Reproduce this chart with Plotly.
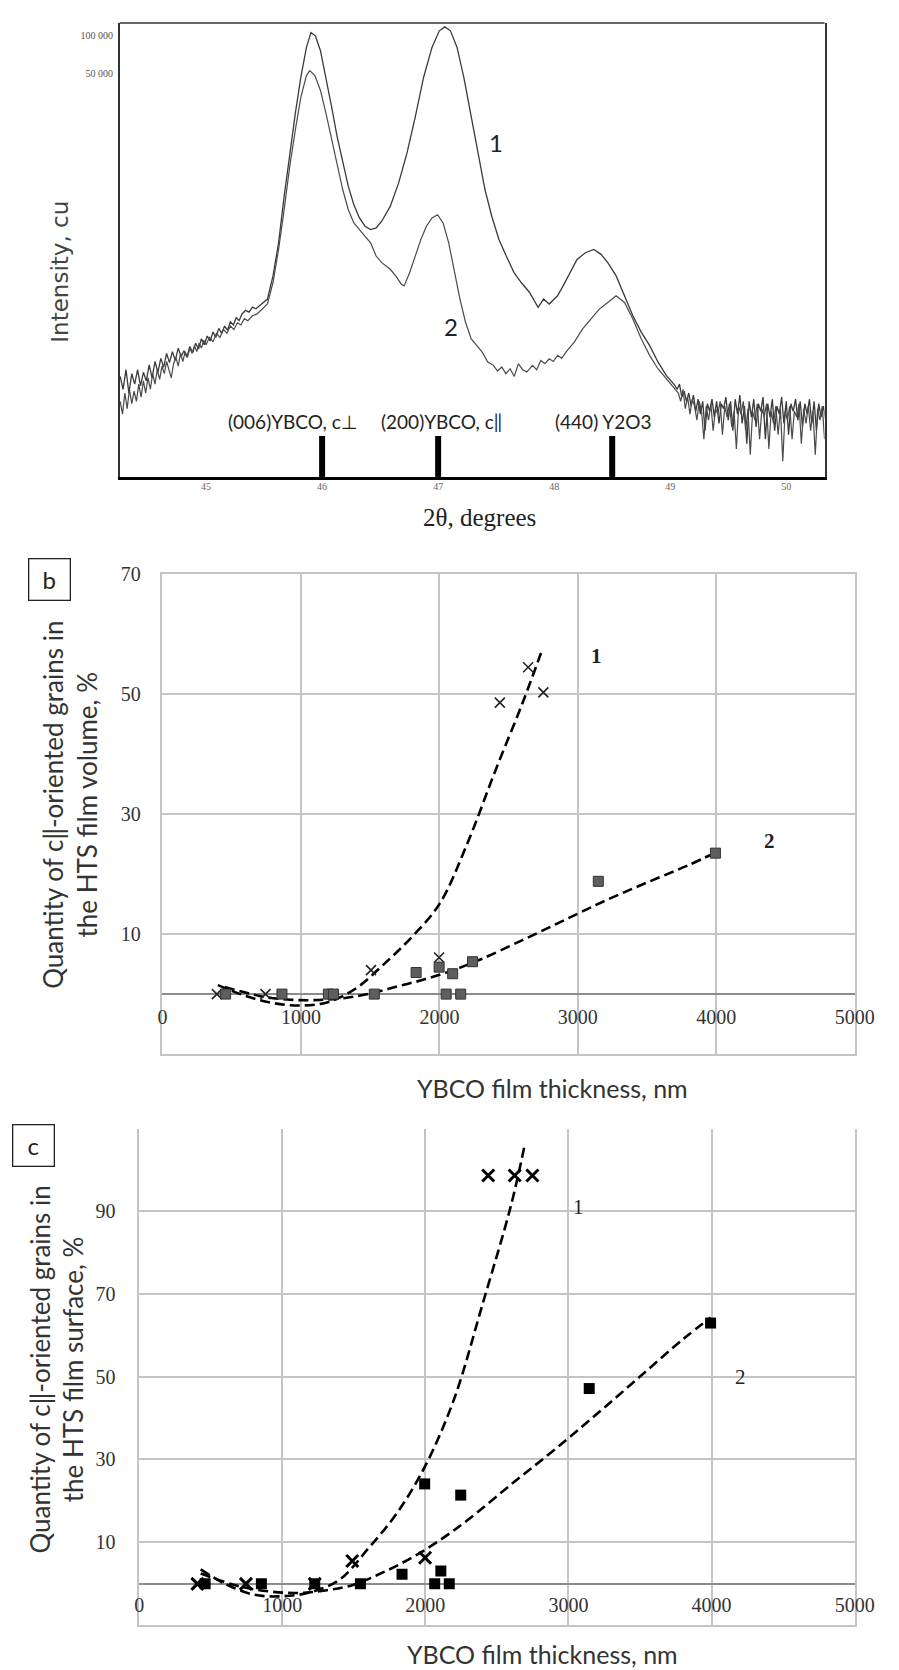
import plotly.graph_objects as go

# ---------------- Panel a: XRD patterns ----------------
tt_1 = [44.26,44.285,44.31,44.335,44.36,44.385,44.41,44.435,44.46,44.485,44.51,44.535,44.56,44.585,44.61,44.635,44.66,44.685,44.71,44.735,44.76,44.785,44.81,44.835,44.86,44.885,44.91,44.935,44.96,44.985,45.01,45.035,45.06,45.085,45.11,45.135,45.16,45.185,45.21,45.235,45.26,45.285,45.31,45.34,45.37,45.40,45.43,45.46,45.49,
        45.529,45.577,45.625,45.673,45.721,45.769,45.817,45.865,45.904,45.942,45.986,46.034,46.082,46.130,46.178,46.226,46.274,46.322,46.370,46.418,46.466,46.514,46.587,46.659,46.731,46.803,46.875,46.947,47.010,47.058,47.106,47.163,47.221,47.284,47.346,47.404,47.462,47.524,47.587,47.654,47.716,47.788,47.861,47.909,47.957,48.029,48.077,48.135,48.197,48.269,48.341,48.404,48.462,48.534,48.606,48.678,48.750,48.822,48.894,48.966,49.038,
        49.06,49.08,49.10,49.12,49.14,49.16,49.18,49.20,49.22,49.24,49.26,49.28,49.30,49.32,49.34,49.36,49.38,49.40,49.42,49.44,49.46,49.48,49.50,49.52,49.54,49.56,49.58,49.60,49.62,49.64,49.66,49.68,49.70,49.72,49.74,49.76,49.78,49.80,49.82,49.84,49.86,49.88,49.90,49.92,49.94,49.96,49.98,50.00,50.02,50.04,50.06,50.08,50.10,50.12,50.14,50.16,50.18,50.20,50.22,50.24,50.26,50.28,50.30,50.32,50.34]
int_1 = [190,150,215,140,200,165,215,160,205,175,235,185,250,205,265,225,290,245,300,255,320,275,305,270,330,295,350,315,380,340,400,365,430,390,460,420,480,445,520,490,560,530,600,640,620,680,660,700,740,
         788,1208,2221,5212,11500,23890,46700,80800,106300,100000,76000,46700,27000,15600,9580,6260,4475,3508,3012,2834,2921,3300,4340,6650,11500,22480,46700,80800,109600,117900,109600,80800,46700,22480,10820,5887,3616,2360,1741,1284,1069,890,677,788,720,837,1005,1284,1636,1850,1965,1795,1540,1207,837,581,429,336,248,194,162,
         150,165,130,145,120,140,110,135,100,125,95,120,70,115,100,125,90,120,80,115,105,130,85,120,70,125,95,135,80,110,55,120,90,125,75,115,100,130,60,115,90,125,70,110,95,130,80,120,65,115,100,125,85,120,75,115,95,125,80,120,70,115,90,110,85]

tt_2 = [44.26,44.28,44.30,44.32,44.34,44.36,44.38,44.40,44.42,44.44,44.46,44.48,44.50,44.52,44.54,44.56,44.58,44.60,44.62,44.64,44.66,44.68,44.70,44.72,44.74,44.76,44.78,44.80,44.82,44.84,44.86,44.88,44.90,44.92,44.94,44.96,44.98,45.00,45.03,45.06,45.09,45.12,45.15,45.18,45.21,45.24,45.27,45.30,45.33,45.36,45.40,45.44,45.48,
        45.529,45.577,45.625,45.673,45.721,45.769,45.817,45.865,45.894,45.938,45.986,46.034,46.082,46.130,46.178,46.226,46.274,46.322,46.370,46.418,46.466,46.514,46.587,46.635,46.683,46.707,46.755,46.803,46.851,46.899,46.947,46.995,47.043,47.091,47.139,47.188,47.236,47.284,47.332,47.380,47.428,47.476,47.512,47.548,47.584,47.620,47.656,47.692,47.728,47.764,47.813,47.849,47.885,47.921,47.957,47.993,48.029,48.065,48.101,48.173,48.245,48.317,48.389,48.462,48.534,48.606,48.678,48.750,48.822,48.894,48.966,49.038,
        49.07,49.09,49.11,49.13,49.15,49.17,49.19,49.21,49.23,49.25,49.27,49.29,49.31,49.33,49.35,49.37,49.39,49.41,49.43,49.45,49.47,49.49,49.51,49.53,49.55,49.57,49.59,49.61,49.63,49.65,49.67,49.69,49.71,49.73,49.75,49.77,49.79,49.81,49.83,49.85,49.87,49.89,49.91,49.93,49.95,49.97,49.99,50.01,50.03,50.05,50.07,50.09,50.11,50.13,50.15,50.17,50.19,50.21,50.23,50.25,50.27,50.29,50.31,50.33]
int_2 = [120,95,140,105,150,115,145,120,165,130,175,140,185,150,200,165,215,180,230,200,250,210,185,240,270,230,290,250,300,270,320,290,335,300,350,320,370,340,390,360,420,390,450,420,480,450,510,490,550,530,580,600,650,
         720,1069,1965,4082,9016,17620,32400,48140,52700,48140,36600,23890,14680,9016,5887,4082,3197,2834,2508,2221,1741,1540,1364,1207,1037,1005,1284,1741,2360,3012,3508,3724,3197,2221,1284,788,515,380,336,297,248,233,210,226,200,219,190,240,215,206,233,215,255,240,263,250,280,265,297,357,456,547,656,741,837,741,547,380,280,219,183,152,
         140,120,150,105,130,95,125,110,85,120,100,60,110,85,115,70,105,95,120,65,110,90,115,75,100,50,110,95,120,70,105,45,100,85,115,60,105,90,115,50,100,80,110,65,105,40,100,85,110,60,100,90,115,55,105,80,110,70,100,45,105,85,110,60]

ref_pos = [46.0, 47.0, 48.5]
ref_labels = ["(006)YBCO, c\u22a5", "(200)YBCO, c\u2016", "(440) Y2O3"]
ref_label_x = [45.75, 47.03, 48.42]
a_xticks = [45, 46, 47, 48, 49, 50]
a_yticks = [50000, 100000]
a_yticktext = ["50 000", "100 000"]

# ---------------- Panel b: volume fraction ----------------
b1_x = [393, 744, 1225, 1506, 1998, 2437, 2641, 2751]
b1_y = [0, 0, 0, 4.0, 6.1, 48.6, 54.5, 50.3]
b2_x = [456, 863, 1198, 1235, 1530, 1832, 1998, 2049, 2096, 2154, 2239, 3148, 3994]
b2_y = [0, 0, 0, 0, 0, 3.6, 4.5, 0, 3.4, 0, 5.4, 18.8, 23.5]
b1_fit_x = [400, 600, 800, 1000, 1200, 1400, 1600, 1800, 2000, 2200, 2400, 2600, 2744]
b1_fit_y = [1.5, -0.3, -1.5, -1.9, -1.3, 1.0, 5.0, 9.5, 15.0, 25.0, 37.0, 48.5, 57.5]
b2_fit_x = [450, 700, 900, 1100, 1300, 1500, 1700, 1900, 2100, 2300, 2600, 2900, 3200, 3500, 3800, 3994]
b2_fit_y = [1.2, -0.3, -0.9, -1.0, -0.7, 0.1, 1.3, 2.5, 4.0, 5.8, 9.0, 12.3, 15.6, 18.6, 21.5, 23.6]

# ---------------- Panel c: surface fraction ----------------
c1_x = [407, 746, 1227, 1489, 1998, 2439, 2624, 2748]
c1_y = [0, 0, 0, 5.5, 6.3, 98.5, 98.5, 98.5]
c2_x = [461, 854, 1227, 1546, 1837, 1995, 2065, 2108, 2167, 2247, 3145, 3993]
c2_y = [0, 0, 0, 0, 2.3, 24.1, 0, 3.1, 0, 21.4, 47.1, 62.9]
c1_fit_x = [430, 600, 800, 1000, 1200, 1400, 1600, 1800, 2000, 2200, 2400, 2600, 2692]
c1_fit_y = [3.5, 0.0, -2.6, -3.0, -2.0, 1.0, 8.5, 17.0, 28.5, 44.5, 67.5, 91.5, 105.5]
c2_fit_x = [430, 700, 900, 1100, 1300, 1500, 1700, 1900, 2100, 2300, 2600, 2900, 3200, 3500, 3800, 3993]
c2_fit_y = [2.5, -0.6, -1.8, -2.2, -1.6, -0.2, 2.7, 6.2, 10.5, 15.5, 24.0, 32.3, 41.0, 50.0, 59.0, 64.2]

thick_ticks = [0, 1000, 2000, 3000, 4000, 5000]
b_yticks = [-10, 10, 30, 50, 70]
b_yticktext = ["", "10", "30", "50", "70"]
c_yticks = [-10, 10, 30, 50, 70, 90]
c_yticktext = ["", "10", "30", "50", "70", "90"]

W, H = 899, 1670
def px(x): return x / W
def py(y): return 1 - y / H

SERIF = "Liberation Serif, Times New Roman, serif"
SANS = "Lato, Open Sans, sans-serif"
WIDE = "DejaVu Sans, sans-serif"
GRID = "#c4c4c4"

fig = go.Figure()

# panel a traces
fig.add_trace(go.Scatter(x=tt_1, y=int_1, mode="lines", line=dict(color="#3a3a3a", width=1.3),
                         xaxis="x", yaxis="y", showlegend=False))
fig.add_trace(go.Scatter(x=tt_2, y=int_2, mode="lines", line=dict(color="#4a4a4a", width=1.2),
                         xaxis="x", yaxis="y", showlegend=False))
bar_x, bar_y = [], []
for p in ref_pos:
    bar_x += [p, p, None]
    bar_y += [29.9, 63.5, None]
fig.add_trace(go.Scatter(x=bar_x, y=bar_y, mode="lines", line=dict(color="black", width=6),
                         xaxis="x", yaxis="y", showlegend=False))

# panel b traces
dash = "10px,5px"
fig.add_trace(go.Scatter(x=b1_fit_x, y=b1_fit_y, mode="lines", line=dict(color="black", width=2.6, dash=dash, shape="spline"),
                         xaxis="x2", yaxis="y2", showlegend=False))
fig.add_trace(go.Scatter(x=b2_fit_x, y=b2_fit_y, mode="lines", line=dict(color="black", width=2.6, dash=dash, shape="spline"),
                         xaxis="x2", yaxis="y2", showlegend=False))
fig.add_trace(go.Scatter(x=b1_x, y=b1_y, mode="markers",
                         marker=dict(symbol="x-thin", size=10, line=dict(color="#222", width=1.6)),
                         xaxis="x2", yaxis="y2", showlegend=False))
fig.add_trace(go.Scatter(x=b2_x, y=b2_y, mode="markers",
                         marker=dict(symbol="square", size=10, color="#5e5e5e", line=dict(color="#333", width=1)),
                         xaxis="x2", yaxis="y2", showlegend=False))

# panel c traces
fig.add_trace(go.Scatter(x=c1_fit_x, y=c1_fit_y, mode="lines", line=dict(color="black", width=2.6, dash=dash, shape="spline"),
                         xaxis="x3", yaxis="y3", showlegend=False))
fig.add_trace(go.Scatter(x=c2_fit_x, y=c2_fit_y, mode="lines", line=dict(color="black", width=2.6, dash=dash, shape="spline"),
                         xaxis="x3", yaxis="y3", showlegend=False))
fig.add_trace(go.Scatter(x=c1_x, y=c1_y, mode="markers",
                         marker=dict(symbol="x-thin", size=12, line=dict(color="black", width=3)),
                         xaxis="x3", yaxis="y3", showlegend=False))
fig.add_trace(go.Scatter(x=c2_x, y=c2_y, mode="markers",
                         marker=dict(symbol="square", size=11, color="black"),
                         xaxis="x3", yaxis="y3", showlegend=False))

fig.update_layout(
    width=W, height=H, margin=dict(l=0, r=0, t=0, b=0),
    paper_bgcolor="white", plot_bgcolor="white", showlegend=False,
    xaxis=dict(domain=[px(118), px(843)], anchor="y", range=[44.256, 50.33],
               tickvals=a_xticks, ticks="", showgrid=False, zeroline=False,
               showline=True, linecolor="black", linewidth=2.5,
               tickfont=dict(family=SERIF, size=10, color="#666"), ticklabelstandoff=-2),
    yaxis=dict(domain=[py(469), py(12)], anchor="x", type="log", range=[1.476, 5.103],
               tickvals=a_yticks, ticktext=a_yticktext, ticks="", showgrid=False, zeroline=False,
               showline=True, mirror=True, linecolor="#333", linewidth=1.5,
               tickfont=dict(family=SERIF, size=10, color="#555"), ticklabelstandoff=3),
    xaxis2=dict(domain=[px(162), px(874)], anchor="y2", range=[0, 5000],
                tickvals=thick_ticks, ticks="", showgrid=True, gridcolor=GRID, gridwidth=1.5,
                zeroline=False, showline=True, mirror=True, linecolor=GRID, linewidth=1.5,
                ticklabelposition="inside", ticklabelstandoff=27, ticklabeloverflow="allow",
                tickfont=dict(family=SERIF, size=20, color="#333")),
    yaxis2=dict(domain=[py(1050), py(567)], anchor="x2", range=[-10, 70],
                tickvals=b_yticks, ticktext=b_yticktext, ticks="", showgrid=True, gridcolor=GRID, gridwidth=1.5,
                zeroline=True, zerolinecolor="#8c8c8c", zerolinewidth=2.2,
                showline=True, mirror=True, linecolor=GRID, linewidth=1.5, ticklabelstandoff=16,
                tickfont=dict(family=SERIF, size=20, color="#333")),
    xaxis3=dict(domain=[px(138), px(874)], anchor="y3", range=[0, 5000],
                tickvals=thick_ticks, ticks="", showgrid=True, gridcolor=GRID, gridwidth=1.5,
                zeroline=False, showline=True, linecolor=GRID, linewidth=1.5,
                ticklabelposition="inside", ticklabelstandoff=11, ticklabeloverflow="allow",
                tickfont=dict(family=SERIF, size=20, color="#333")),
    yaxis3=dict(domain=[py(1625), py(1125)], anchor="x3", range=[-10, 109.8],
                tickvals=c_yticks, ticktext=c_yticktext, ticks="", showgrid=True, gridcolor=GRID, gridwidth=1.5,
                zeroline=True, zerolinecolor="#8c8c8c", zerolinewidth=2.2,
                showline=True, mirror=True, linecolor=GRID, linewidth=1.5, ticklabelstandoff=18,
                tickfont=dict(family=SERIF, size=20, color="#333")),
)

# top border of panel a
fig.add_shape(type="line", xref="x domain", yref="y domain", x0=0, x1=1, y0=1, y1=1,
              line=dict(color="#333", width=1.5))

C = dict(xanchor="center", yanchor="middle", showarrow=False)
ann = []
# panel a texts
ann.append(dict(text="Intensity, cu", x=px(57), y=py(262), xref="paper", yref="paper", textangle=-90,
                font=dict(family=WIDE, size=23, color="#444"), **C))
ann.append(dict(text="2\u03b8, degrees", x=px(488), y=py(510), xref="paper", yref="paper",
                font=dict(family=SERIF, size=25, color="#222"), **C))
for lx, lt in zip(ref_label_x, ref_labels):
    ann.append(dict(text=lt, x=lx, y=py(413), xref="x", yref="paper",
                    font=dict(family=SANS, size=19, color="#222"), **C))
ann.append(dict(text="1", x=47.5, y=4.151, xref="x", yref="y",
                font=dict(family=SANS, size=24, color="#222"), **C))
ann.append(dict(text="2", x=47.115, y=2.675, xref="x", yref="y",
                font=dict(family=SANS, size=24, color="#222"), **C))

# panel b texts
ann.append(dict(text="b", x=px(46), y=py(572), xref="paper", yref="paper",
                width=28, height=28, bordercolor="#222", borderwidth=1.3, borderpad=6,
                font=dict(family=SANS, size=24, color="#222"), **C))
ann.append(dict(text="Quantity of c\u2016-oriented grains in<br>the HTS film volume, %", x=px(67), y=py(799),
                xref="paper", yref="paper", textangle=-90,
                font=dict(family=SANS, size=26, color="#333"), **C))
ann.append(dict(text="YBCO film thickness, nm", x=px(563), y=py(1084), xref="paper", yref="paper",
                font=dict(family=SANS, size=25, color="#333"), **C))
ann.append(dict(text="<b>1</b>", x=3137, y=56.3, xref="x2", yref="y2",
                font=dict(family=SERIF, size=21, color="#222"), **C))
ann.append(dict(text="<b>2</b>", x=4385, y=25.6, xref="x2", yref="y2",
                font=dict(family=SERIF, size=21, color="#222"), **C))

# panel c texts
ann.append(dict(text="c", x=px(29.5), y=py(1142.5), xref="paper", yref="paper",
                width=28, height=28, bordercolor="#222", borderwidth=1.3, borderpad=6,
                font=dict(family=SANS, size=24, color="#222"), **C))
ann.append(dict(text="Quantity of c\u2016-oriented grains in<br>the HTS film surface, %", x=px(53), y=py(1368),
                xref="paper", yref="paper", textangle=-90,
                font=dict(family=SANS, size=26, color="#333"), **C))
ann.append(dict(text="YBCO film thickness, nm", x=px(553), y=py(1654), xref="paper", yref="paper",
                font=dict(family=SANS, size=25, color="#333"), **C))
ann.append(dict(text="1", x=3071, y=91, xref="x3", yref="y3",
                font=dict(family=SERIF, size=21, color="#222"), **C))
ann.append(dict(text="2", x=4202, y=50, xref="x3", yref="y3",
                font=dict(family=SERIF, size=21, color="#222"), **C))

fig.update_layout(annotations=ann)
fig.write_html("out.html")
